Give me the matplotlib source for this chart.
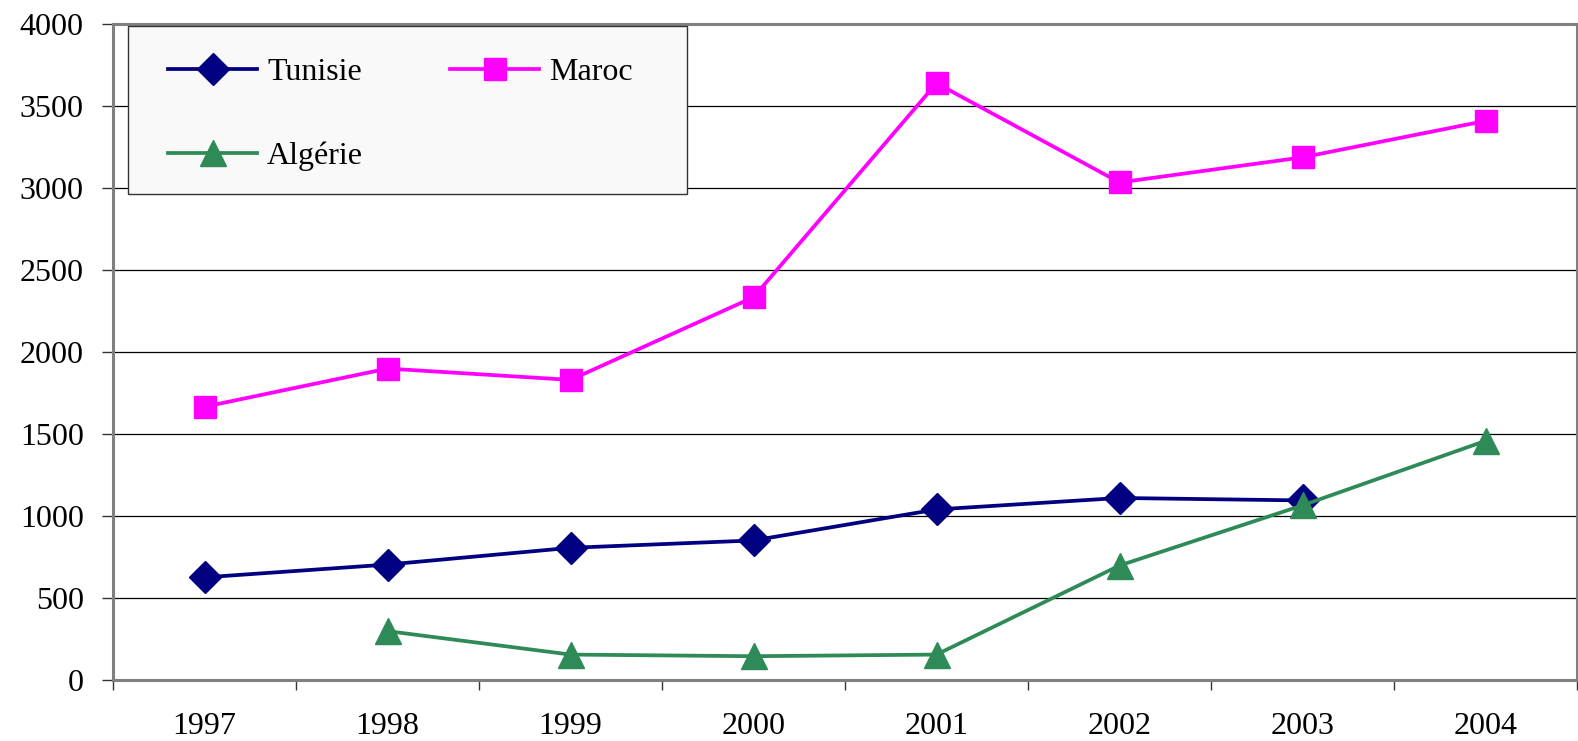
import matplotlib
matplotlib.use("Agg")
import matplotlib.pyplot as plt
from matplotlib.patches import Rectangle
import numpy as np

years = ["1997", "1998", "1999", "2000", "2001", "2002", "2003", "2004"]
tunisie = [626, 704, 806, 851, 1040, 1110, 1095, np.nan]
maroc = [1666, 1899, 1830, 2334, 3639, 3034, 3187, 3409]
algerie = [np.nan, 298, 155, 145, 155, 698, 1065, 1458]

plt.rcParams['font.family'] = ['Liberation Serif', 'DejaVu Serif']
FS = 23

W, H = 1578, 741
fig = plt.figure(figsize=(W / 100, H / 100), dpi=100)
ax = fig.add_axes([113 / W, (H - 680) / H, (1577 - 113) / W, (680 - 24) / H])

x = np.arange(len(years))
l_t, = ax.plot(x, tunisie, color='#000080', lw=2.7, marker='D', ms=16,
               mec='#000080', mfc='#000080', label='Tunisie', zorder=3)
l_m, = ax.plot(x, maroc, color='#FF00FF', lw=2.7, marker='s', ms=16,
               mec='#FF00FF', mfc='#FF00FF', label='Maroc', zorder=3)
l_a, = ax.plot(x, algerie, color='#2E8B57', lw=2.7, marker='^', ms=19,
               mec='#2E8B57', mfc='#2E8B57', label='Algérie', zorder=3)

ax.set_xlim(-0.5, len(years) - 0.5)
ax.set_ylim(0, 4000)
ax.set_yticks(np.arange(0, 4001, 500))
ax.set_xticks(x)
ax.set_xticklabels(years)
ax.set_xticks(np.arange(-0.5, len(years), 1.0), minor=True)
ax.tick_params(axis='x', which='major', length=0, pad=23, labelsize=FS)
ax.tick_params(axis='x', which='minor', length=7, width=1, direction='out', color='#333333')
ax.tick_params(axis='y', length=8, width=1, pad=13, labelsize=FS, color='#333333')
ax.yaxis.grid(True, color='black', lw=0.9)
ax.set_axisbelow(True)
for s in ax.spines.values():
    s.set_color('#808080')
    s.set_linewidth(2.2)

# legend frame (drawn separately to match asymmetric padding)
frame = Rectangle((128 / W, 1 - 194 / H), (687 - 128) / W, (194 - 26) / H,
                  transform=fig.transFigure, facecolor='#f9f9f9',
                  edgecolor='#333333', lw=1.0, zorder=4)
fig.patches.append(frame)

leg = fig.legend(handles=[l_t, l_a, l_m], labels=['Tunisie', 'Algérie', 'Maroc'],
                 loc='upper left', bbox_to_anchor=(168 / W, 1 - 58 / H), ncol=2,
                 fontsize=FS, frameon=False, borderpad=0,
                 handlelength=2.79, handletextpad=0.31, columnspacing=2.73,
                 labelspacing=1.7, borderaxespad=0)
leg.set_zorder(5)

fig.savefig('out.png', dpi=100)
